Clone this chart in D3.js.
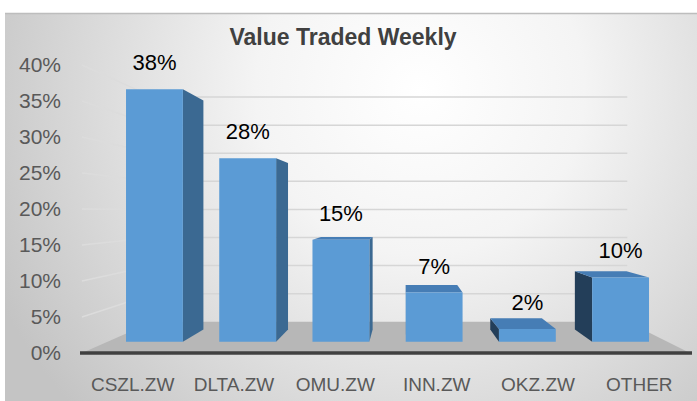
<!DOCTYPE html>
<html>
<head>
<meta charset="utf-8">
<script src="https://cdn.jsdelivr.net/npm/d3@7"></script>
<style>
  body { margin: 0; background: #fff; }
  svg text { font-family: "Liberation Sans", Arial, sans-serif; }
</style>
</head>
<body>
<div id="chart"></div>
<script>
const svgWidth = 697;
const svgHeight = 401;

// data
const categories = ["CSZL.ZW", "DLTA.ZW", "OMU.ZW", "INN.ZW", "OKZ.ZW", "OTHER"];
const shares = [0.381, 0.277, 0.154, 0.074, 0.019, 0.097];
const tickValues = [0, 0.05, 0.10, 0.15, 0.20, 0.25, 0.30, 0.35, 0.40];

// fake perspective: vanishing point and depth factors
const vx = 405, vy = 211;
const depthBarFront = 0.92;
const depthBarBack = 0.835;
const depthWall = 0.78;

let svg, g, x, y;

function project(X, Y, s) {
    return [vx + s * (X - vx), vy + s * (Y - vy)];
}

function initChart() {
    svg = d3.select("#chart")
        .append("svg")
        .attr("width", svgWidth)
        .attr("height", svgHeight);

    const defs = svg.append("defs");
    const bg = defs.append("radialGradient")
        .attr("id", "bg")
        .attr("gradientUnits", "userSpaceOnUse")
        .attr("cx", 420).attr("cy", 90).attr("r", 470);
    bg.append("stop").attr("offset", "0%").attr("stop-color", "#ffffff");
    bg.append("stop").attr("offset", "35%").attr("stop-color", "#f4f4f4");
    bg.append("stop").attr("offset", "100%").attr("stop-color", "#c4c4c4");

    svg.append("rect")
        .attr("x", 5).attr("y", 13)
        .attr("width", svgWidth - 5).attr("height", svgHeight - 13)
        .attr("fill", "url(#bg)");
    svg.append("line")
        .attr("x1", 5).attr("x2", svgWidth).attr("y1", 13.5).attr("y2", 13.5)
        .attr("stroke", "#bdbdbd").attr("stroke-width", 1.5);

    g = svg.append("g");

    x = d3.scaleBand()
        .domain(categories)
        .range([82, 690])
        .paddingInner(0.39)
        .paddingOuter(0.195);

    y = d3.scaleLinear()
        .domain([0, 0.40])
        .range([353, 65]);

    drawWalls();
    drawBars();
    drawAxes();

    svg.append("text")
        .attr("x", 343).attr("y", 45)
        .attr("text-anchor", "middle")
        .attr("font-size", 23)
        .attr("font-weight", "bold")
        .attr("fill", "#404040")
        .text("Value Traded Weekly");
}

function drawWalls() {
    const left = 82, right = 690;
    const line = d3.line();

    // floor
    g.append("path")
        .attr("d", line([
            project(left, y(0), 1),
            project(left, y(0), depthWall),
            project(right, y(0), depthWall),
            project(right, y(0), 1)
        ]) + "Z")
        .attr("fill", "#b7b7b7");

    const grid = tickValues.filter(d => d > 0);

    // side wall lines
    g.selectAll(".side-grid")
        .data(grid)
        .enter().append("path")
        .attr("class", "side-grid")
        .attr("d", d => line([project(left, y(d), 1), project(left, y(d), depthWall)]))
        .attr("stroke", "#dcdcdc")
        .attr("stroke-width", 1.5)
        .attr("fill", "none");

    // back wall lines
    g.selectAll(".back-grid")
        .data(grid)
        .enter().append("path")
        .attr("class", "back-grid")
        .attr("d", d => line([project(left, y(d), depthWall), project(right, y(d), depthWall)]))
        .attr("stroke", "#d6d6d6")
        .attr("stroke-width", 1.5)
        .attr("fill", "none");
}

function drawBars() {
    const line = d3.line();
    const bw = x.bandwidth();

    const bars = g.selectAll(".bar")
        .data(categories.map((c, i) => ({ name: c, value: shares[i] })))
        .enter().append("g")
        .attr("class", "bar");

    bars.each(function(d) {
        const X0 = x(d.name), X1 = X0 + bw;
        const Yt = y(d.value), Yb = y(0);
        const fTL = project(X0, Yt, depthBarFront), fTR = project(X1, Yt, depthBarFront);
        const fBL = project(X0, Yb, depthBarFront), fBR = project(X1, Yb, depthBarFront);
        const bTL = project(X0, Yt, depthBarBack), bTR = project(X1, Yt, depthBarBack);
        const bBL = project(X0, Yb, depthBarBack), bBR = project(X1, Yb, depthBarBack);
        const sel = d3.select(this);

        if (X1 < vx) {
            sel.append("path").attr("d", line([fTR, bTR, bBR, fBR]) + "Z").attr("fill", "#3b6992");
        }
        if (X0 > vx) {
            sel.append("path").attr("d", line([fTL, bTL, bBL, fBL]) + "Z").attr("fill", "#233e59");
        }
        if (Yt > vy) {
            sel.append("path").attr("d", line([fTL, fTR, bTR, bTL]) + "Z").attr("fill", "#467db5");
        }
        sel.append("path").attr("d", line([fTL, fTR, fBR, fBL]) + "Z").attr("fill", "#5b9bd5");

        sel.append("text")
            .attr("x", (fTL[0] + fTR[0]) / 2)
            .attr("y", fTL[1] - 19)
            .attr("text-anchor", "middle")
            .attr("font-size", 22)
            .attr("fill", "#000")
            .text(d3.format(".0%")(d.value));
    });
}

function drawAxes() {
    // x axis line on the front edge of the floor
    g.append("line")
        .attr("x1", 80).attr("x2", 692)
        .attr("y1", y(0)).attr("y2", y(0))
        .attr("stroke", "#404040")
        .attr("stroke-width", 3.5);

    const yAxis = svg.append("g")
        .attr("transform", "translate(63,0)")
        .call(d3.axisLeft(y).tickValues(tickValues).tickFormat(d3.format(".0%")).tickSize(0).tickPadding(2));
    yAxis.select(".domain").remove();
    yAxis.selectAll("text")
        .attr("font-size", 21)
        .attr("fill", "#595959")
        .style("font-family", "'Liberation Sans', Arial, sans-serif");

    const xAxis = svg.append("g")
        .attr("transform", `translate(0,${y(0)})`)
        .call(d3.axisBottom(x).tickSize(0).tickPadding(24.5));
    xAxis.select(".domain").remove();
    xAxis.selectAll("text")
        .attr("font-size", 19)
        .attr("fill", "#595959")
        .style("font-family", "'Liberation Sans', Arial, sans-serif");
}

document.addEventListener("DOMContentLoaded", initChart);
</script>
</body>
</html>
